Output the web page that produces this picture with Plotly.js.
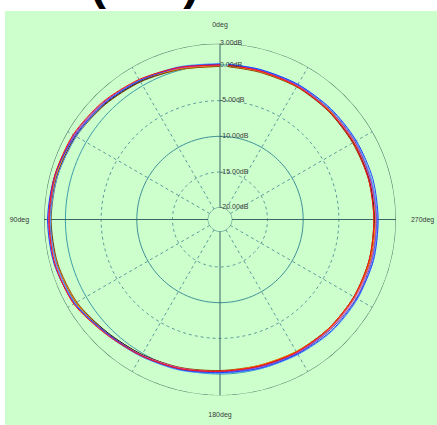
<!DOCTYPE html>
<html>
<head>
<meta charset="utf-8">
<script src="https://cdn.plot.ly/plotly-3.0.1.min.js"></script>
<style>html,body{margin:0;padding:0;background:#fff;}#chart{width:437px;height:425px;}</style>
</head>
<body>
<div id="chart"></div>
<script>
// ---- data (dB vs angle) ----
const theta = [0,15,30,45,60,75,90,105,120,135,150,165,180,195,210,225,240,255,270,285,300,315,330,345,357];

const seriesOlive   = [-0.2,0.1,0.7,1.2,1.7,2.0,2.1,2.0,1.7,0.8,0.3,0.0,-0.3,-0.3,-0.2,0.0,0.1,0.2,0.1,0.0,0.0,-0.1,-0.1,-0.2,-0.2];
const seriesBrown   = [-0.2,0.1,0.6,1.1,1.6,1.9,2.0,1.9,1.5,0.7,0.2,-0.2,-0.5,-0.5,-0.3,-0.1,0.0,0.0,-0.1,-0.1,-0.2,-0.2,-0.2,-0.3,-0.2];
const seriesBlack   = [-0.1,0.2,0.7,1.2,1.7,2.0,2.1,2.0,1.6,0.7,0.2,-0.1,-0.4,-0.4,-0.2,0.0,0.1,0.1,0.0,0.0,-0.1,-0.1,-0.1,-0.2,-0.1];
const seriesOrange  = [-0.1,0.2,0.8,1.3,1.8,2.1,2.2,2.0,1.6,0.8,0.3,-0.1,-0.4,-0.5,-0.3,0.0,0.1,0.1,0.1,0.2,0.1,0.0,-0.1,-0.2,-0.1];
const seriesMagenta = [0.0,0.3,0.9,1.4,1.9,2.3,2.4,2.3,1.9,0.9,0.3,-0.1,-0.3,-0.2,-0.1,0.1,0.2,0.3,0.2,0.1,0.1,-0.1,0.0,-0.1,0.0];
const seriesPurple  = [0.1,0.4,0.9,1.5,2.0,2.2,2.2,2.1,1.8,0.9,0.4,0.0,-0.3,-0.3,0.0,0.2,0.4,0.4,0.3,0.2,0.2,0.1,0.1,0.0,0.1];
const seriesLtBlue  = [0.2,0.5,0.9,1.3,1.6,1.9,2.1,2.1,1.8,1.0,0.5,0.2,-0.1,0.0,0.2,0.5,0.6,0.5,0.4,0.3,0.3,0.2,0.2,0.1,0.2];
const seriesBlue    = [0.1,0.4,0.8,1.3,1.8,2.3,2.5,2.4,1.9,0.8,0.4,0.1,-0.2,-0.1,0.1,0.4,0.5,0.6,0.5,0.5,0.4,0.3,0.2,0.1,0.1];
const seriesRed     = [0.0,0.4,1.0,1.6,2.1,2.3,2.3,2.3,2.0,1.0,0.4,0.0,-0.4,-0.4,-0.2,-0.1,0.0,0.0,-0.1,-0.1,-0.1,-0.1,-0.1,-0.1,0.0];

const radialTicks = [3, 0, -5, -10, -15, -20];
const radialTickText = ['3.00dB','0.00dB','-5.00dB','-10.00dB','-15.00dB','-20.00dB'];
const solidLevels = [3, 0, -10, -20];
const dashedLevels = [-5, -15];
const axisAngles = [0, 90, 180, 270];
const axisAngleText = ['0deg','90deg','180deg','270deg'];
const spokeAngles = [30, 60, 120, 150, 210, 240, 300, 330];
const titleText = '(dBi)';

// ---- build ----
const R0 = -20, R1 = 3;
const circleTheta = [];
for (let a = 0; a <= 360; a += 2) circleTheta.push(a);

const traces = [];
const levelStyle = {
  '3':   {color:'#56786a', width:1.2},
  '0':   {color:'#3f9ea6', width:1},
  '-10': {color:'#3f8f96', width:1},
  '-20': {color:'#3d7c80', width:1}
};
dashedLevels.forEach(lv => traces.push({
  type:'scatterpolar', mode:'lines', r: circleTheta.map(() => lv), theta: circleTheta,
  line:{color:'#5f9a9a', width:1, dash:'3px,3px'}, hoverinfo:'skip', showlegend:false, cliponaxis:false
}));
spokeAngles.forEach(a => traces.push({
  type:'scatterpolar', mode:'lines', r:[R0, R1], theta:[a, a],
  line:{color:'#5f9a9a', width:1, dash:'3px,3px'}, hoverinfo:'skip', showlegend:false, cliponaxis:false
}));
solidLevels.forEach(lv => traces.push({
  type:'scatterpolar', mode:'lines', r: circleTheta.map(() => lv), theta: circleTheta,
  line: levelStyle[String(lv)], hoverinfo:'skip', showlegend:false, cliponaxis:false
}));
axisAngles.forEach(a => traces.push({
  type:'scatterpolar', mode:'lines', r:[R0, R1], theta:[a, a],
  line:{color:'#3a6666', width:1}, hoverinfo:'skip', showlegend:false, cliponaxis:false
}));

const series = [
  [seriesOlive,'#b8a000'], [seriesBrown,'#8a4a10'], [seriesBlack,'#202020'],
  [seriesOrange,'#ff8c00'], [seriesMagenta,'#e040c0'], [seriesPurple,'#8040c0'],
  [seriesLtBlue,'#50a0ff'], [seriesBlue,'#2040ff'], [seriesRed,'#ff1010']
];
series.forEach(([vals, col]) => traces.push({
  type:'scatterpolar', mode:'lines', r: vals, theta: theta,
  line:{color: col, width:1, shape:'spline', smoothing:0.8},
  hoverinfo:'skip', showlegend:false, cliponaxis:false
}));

// radial labels (right of the vertical axis line)
traces.push({
  type:'scatterpolar', mode:'text', r: radialTicks, theta: radialTicks.map(() => 0),
  text: radialTickText, textposition:'middle right', marker:{size:1},
  textfont:{family:'Liberation Sans, Arial, sans-serif', size:7, color:'#3a3a3a'},
  hoverinfo:'skip', showlegend:false, cliponaxis:false
});

const layout = {
  width:437, height:425,
  margin:{l:0, r:0, t:0, b:0},
  paper_bgcolor:'#ffffff',
  showlegend:false,
  shapes:[{type:'rect', xref:'paper', yref:'paper', x0:5/437, x1:1, y0:0, y1:414/425,
           fillcolor:'#ccffcc', line:{width:0}, layer:'below'}],
  annotations:[{text:titleText, xref:'paper', yref:'paper', x:88/437, y:1, xanchor:'left', yanchor:'bottom',
                yshift:-11, showarrow:false, font:{family:'Liberation Sans, Arial, sans-serif', size:48, color:'#000', weight:'bold'}}],
  polar:{
    domain:{x:[44/437, 396/437], y:[29.5/425, 381.5/425]},
    hole:0.067,
    bgcolor:'rgba(0,0,0,0)',
    radialaxis:{range:[R0, R1], showgrid:false, showline:false, showticklabels:false, ticks:''},
    angularaxis:{rotation:90, direction:'counterclockwise', showgrid:false, showline:false,
                 tickmode:'array', tickvals:axisAngles, ticktext:axisAngleText,
                 showticklabels:true, ticks:'outside', ticklen:13, tickcolor:'rgba(0,0,0,0)',
                 tickfont:{family:'Liberation Sans, Arial, sans-serif', size:7, color:'#3a3a3a'}}
  }
};

Plotly.newPlot('chart', traces, layout, {staticPlot:true, displayModeBar:false});
</script>
</body>
</html>
